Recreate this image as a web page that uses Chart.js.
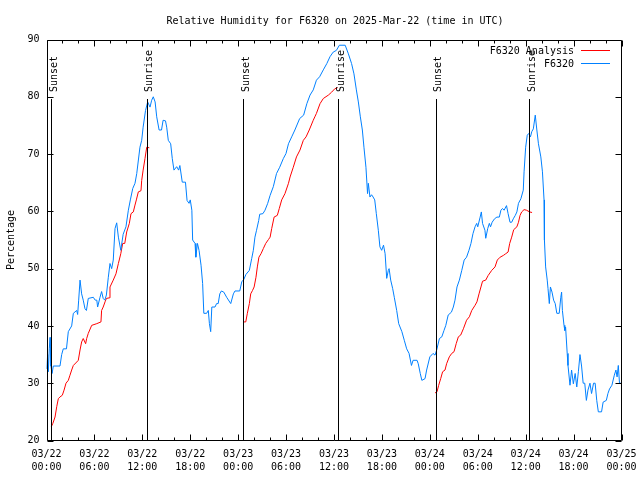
<!DOCTYPE html>
<html><head><meta charset="utf-8">
<script src="https://cdn.jsdelivr.net/npm/chart.js@4/dist/chart.umd.min.js"></script>
<style>html,body{margin:0;padding:0;background:#fff}</style>
</head><body>
<canvas id="c" width="640" height="480"></canvas>
<script>
const chartTitle = 'Relative Humidity for F6320 on 2025-Mar-22 (time in UTC)';
const yTitle = 'Percentage';
const seriesNames = ['F6320 Analysis', 'F6320'];
const xTickDates = ['03/22','03/22','03/22','03/22','03/23','03/23','03/23','03/23','03/24','03/24','03/24','03/24','03/25'];
const xTickTimes = ['00:00','06:00','12:00','18:00','00:00','06:00','12:00','18:00','00:00','06:00','12:00','18:00','00:00'];
const yTicks = [20,30,40,50,60,70,80,90];
const sunLabels = ['Sunset','Sunrise','Sunset','Sunrise','Sunset','Sunrise'];
const sunHours = [0.6, 12.55, 24.65, 36.54, 48.73, 60.46];

// hours since 03/22 00:00 UTC
const stationHours = [0.0,0.15,0.23,0.35,0.44,0.55,0.7,0.85,1.69,1.9,2.1,2.5,2.73,3.15,3.36,3.78,3.9,4.03,4.2,4.4,4.6,4.82,5.0,5.23,5.86,6.1,6.3,6.4,6.7,6.9,7.1,7.3,7.5,7.74,7.95,8.16,8.36,8.58,8.79,9.0,9.3,9.6,9.95,10.25,10.5,10.8,11.08,11.3,11.7,11.92,12.1,12.4,12.67,12.96,13.17,13.37,13.6,13.8,14.1,14.4,14.6,14.9,15.05,15.25,15.55,15.75,15.96,16.3,16.55,16.7,17.0,17.4,17.6,17.85,18.0,18.2,18.3,18.6,18.7,18.9,19.1,19.35,19.55,19.7,20.05,20.26,20.4,20.56,20.7,21.1,21.3,21.5,21.7,21.9,22.2,22.56,23.07,23.4,23.6,24.2,24.45,24.7,24.98,25.4,25.7,25.9,26.1,26.3,26.57,26.7,27.1,27.36,27.7,28.0,28.4,28.8,29.2,29.65,29.99,30.3,30.7,31.1,31.7,32.2,32.6,33.0,33.4,33.8,34.2,34.66,35.1,35.5,35.9,36.3,36.67,37.4,37.8,38.2,38.5,38.8,39.05,39.3,39.55,39.75,40.0,40.2,40.3,40.5,40.7,40.9,41.1,41.3,41.55,41.75,41.97,42.2,42.4,42.6,42.8,42.9,43.1,43.35,43.55,43.85,44.1,44.5,44.8,45.1,45.4,45.7,45.9,46.4,46.55,46.8,47.0,47.4,47.6,48.0,48.4,48.65,48.86,49.2,49.5,49.77,50.0,50.3,50.7,50.94,51.15,51.4,51.7,52.0,52.3,52.6,52.9,53.15,53.4,53.66,53.87,54.0,54.3,54.45,54.6,54.9,55.0,55.25,55.45,55.6,55.8,56.1,56.4,56.7,56.9,57.1,57.3,57.6,57.8,58.04,58.25,58.45,58.7,58.9,59.1,59.4,59.7,59.8,60.0,60.2,60.4,60.6,60.76,60.96,61.2,61.4,61.6,61.9,62.1,62.3,62.35,62.5,62.7,62.8,62.96,63.1,63.3,63.5,63.7,63.9,64.2,64.4,64.5,64.6,64.8,64.9,65.0,65.2,65.3,65.55,65.75,65.97,66.2,66.4,66.6,66.8,67.0,67.2,67.4,67.6,67.8,68.05,68.25,68.5,68.7,68.9,69.1,69.5,69.7,70.1,70.3,70.5,70.8,71.1,71.3,71.45,71.6,71.75,72.0];
const stationValues = [32.5,35,32,36,38,33,31.7,33,33,35,36,36,39,40,42.2,42.7,42,44.5,48,45.6,44.5,43,42.7,44.8,45,44.5,44.5,43.3,45,46,44.8,44.5,45.4,48.5,50.9,50,51.5,57,58,55.5,53.2,56,57.3,60.2,62,64,64.9,66.6,71.2,72.4,74.7,77.6,79.1,78.2,79.4,80,79.1,76.5,74.2,74.2,75.9,75.8,74.7,72.4,71.8,69.2,67.2,67.8,67.2,68,65.1,65.1,61.9,61.4,62,60.2,55,54.4,52,54.4,53.2,50.6,47.4,42.2,42.2,42.7,40.4,39,43.3,43.3,43.9,43.9,45.6,46.1,45.9,45,43.9,45.6,46.1,46.1,47.7,48.1,49,49.7,51.8,53.2,55.5,56.7,58.4,59.5,59.6,60.2,61.4,62.8,64.3,66.6,67.7,69.2,70.1,71.8,73,74.2,76.2,76.8,78.8,80.3,81.2,82.9,83.5,84.7,85.8,87,87.8,88.1,89,89,87.5,85.8,84,81.2,79.1,76.5,74.2,71.2,67.7,63.1,64.9,62.5,62.9,62.5,62,59.6,56.7,53.8,53.2,54.1,52.6,48.3,49.7,50,48,46.5,45,42.7,40.4,39,37.5,36,35.2,33.1,34,34,33.4,31.7,30.5,30.8,32.3,34.6,35.2,34.9,35.8,37.8,38.1,39.2,40.1,41.9,42.4,43.3,44.5,46.8,48,49.7,51.5,52,53.2,54.4,56.1,57.3,57.9,57.3,59,59.9,57.9,56.7,55.3,57,57.9,57.3,58.1,58.7,59,59,60.2,60.5,60.2,61,59.6,58.1,58.1,58.7,59.3,59.9,61.4,62.2,63.7,66.9,71.2,73.3,73.6,73,73.9,74.4,76.8,74.2,71.8,69.5,66.9,62,55,50.3,48,46.5,43.9,46.8,45.9,44.5,43.9,42.2,42.2,45,45.9,42.7,40.1,39.2,39.8,35.2,33.1,29.65,32.3,29.9,31.7,29.35,32,35,33,30,30,27,28.8,30,28.2,30,30,27,25,25,26.7,27,28.2,29,29.65,31.4,32.3,31.1,33.1,30,30];

const analysisHours = [0.6,0.8,1.07,1.28,1.48,1.69,1.98,2.2,2.44,2.73,2.94,3.15,3.36,3.78,3.98,4.2,4.4,4.6,4.9,5.03,5.23,5.66,6.3,6.82,6.9,7.1,7.33,7.5,7.86,7.95,8.36,8.7,9.0,9.3,9.54,9.8,10.04,10.37,10.58,10.87,11.08,11.25,11.5,11.83,11.92,12.1,12.33,12.55,12.87,
  18,
  24.64,24.95,25.15,25.4,25.57,25.8,26.0,26.23,26.4,26.6,26.86,27.15,27.45,27.8,28.0,28.2,28.5,28.9,29.15,29.45,29.86,30.3,30.5,30.9,31.3,31.74,32.16,32.5,32.9,33.4,33.6,33.8,34.25,34.66,35.3,35.7,36.1,36.45,
  42,
  48.65,48.9,49.1,49.36,49.6,49.9,50.1,50.44,50.74,51.03,51.3,51.57,51.86,52.2,52.6,52.95,53.25,53.66,53.9,54.16,54.4,54.6,55.0,55.3,55.75,56.16,56.45,56.8,57.2,57.5,57.8,58.0,58.25,58.5,58.9,59.1,59.3,59.5,59.8,60.1,60.5,60.8];
const analysisValues = [22.4,23,24.1,25.9,27.3,27.6,27.9,28.8,30,30.5,31.4,32.3,33.1,33.7,34,35.8,37.2,37.8,36.9,37.8,38.7,40.1,40.4,40.7,42.7,43.3,44.2,44.8,44.9,46.8,48,49.1,50.9,52.6,54.4,54.4,56.4,57.9,59.6,59.9,61.1,62,63.4,63.6,65.4,67.2,69.2,71.2,71.1,
  null,
  40.7,40.7,42.2,43.9,45.6,46.2,46.8,48.5,50.3,52,52.6,53.5,54.4,55.1,55.5,57,59,59.3,60.5,62,63.1,64.9,66,67.7,69.5,70.7,72.4,73,74.2,75.9,76.5,77.1,78.8,79.7,80.3,80.8,81.4,81.6,
  null,
  28.3,28.5,29.6,30.8,32,32.3,33.4,34.6,35.2,35.5,36.9,38.1,38.4,39.5,41,41.6,42.7,43.6,44.2,45.6,46.8,47.8,48,48.8,49.7,50.3,51.5,52,52.3,52.6,52.9,54.4,55.5,56.8,57.3,58.1,59.3,59.9,60.3,60.2,59.9,59.8];

const FONT = 'DejaVu Sans Mono';
const RED = '#ff0000';
const BLUE = '#0080ff';
const SUN_TOP = 79.6;

const toXY = (xs, ys) => xs.map((x, i) => ({x: x, y: ys[i]}));

const decor = {
  id: 'decor',
  afterDraw(chart) {
    const ctx = chart.ctx;
    const a = chart.chartArea;
    const xs = chart.scales.x, ys = chart.scales.y;
    ctx.save();
    ctx.strokeStyle = '#000';
    ctx.lineWidth = 1;
    const L = Math.round(a.left) + 0.5, R = Math.round(a.right) - 0.5;
    const T = Math.round(a.top) + 0.5, B = Math.round(a.bottom) - 0.5;
    ctx.beginPath();
    sunHours.forEach(h => {
      const px = Math.round(xs.getPixelForValue(h)) + 0.5;
      ctx.moveTo(px, B);
      ctx.lineTo(px, Math.round(ys.getPixelForValue(SUN_TOP)));
    });
    ctx.rect(L, T, R - L, B - T);
    for (let h = 0; h <= 72; h += 2) {
      const px = Math.round(xs.getPixelForValue(h)) + 0.5;
      const len = (h % 6 === 0) ? 6 : 3;
      ctx.moveTo(px, B); ctx.lineTo(px, B - len);
      ctx.moveTo(px, T); ctx.lineTo(px, T + len);
    }
    yTicks.forEach(v => {
      const py = Math.round(ys.getPixelForValue(v)) + 0.5;
      ctx.moveTo(L, py); ctx.lineTo(L + 6, py);
      ctx.moveTo(R, py); ctx.lineTo(R - 6, py);
    });
    ctx.stroke();
    ctx.fillStyle = '#000';
    ctx.font = '10px "' + FONT + '"';
    sunHours.forEach((h, i) => {
      const px = xs.getPixelForValue(h);
      ctx.save();
      ctx.translate(px + 5.5, 92);
      ctx.rotate(-Math.PI / 2);
      ctx.textAlign = 'left';
      ctx.textBaseline = 'alphabetic';
      ctx.fillText(sunLabels[i], 0, 0);
      ctx.restore();
    });
    ctx.textAlign = 'center';
    ctx.textBaseline = 'alphabetic';
    ctx.fillText(chartTitle, 335, 24);
    const ds = chart.data.datasets;
    ds.forEach((d, i) => {
      const by = 53.5 + i * 13;
      ctx.textAlign = 'right';
      ctx.fillStyle = '#000';
      ctx.fillText(d.label, 574, by);
      ctx.strokeStyle = d.borderColor;
      ctx.beginPath();
      ctx.moveTo(581, Math.round(by - 4) + 0.5);
      ctx.lineTo(610, Math.round(by - 4) + 0.5);
      ctx.stroke();
    });
    ctx.restore();
  }
};

new Chart(document.getElementById('c'), {
  type: 'line',
  data: {
    datasets: [
      { label: seriesNames[0], data: toXY(analysisHours, analysisValues), borderColor: RED, borderWidth: 1, pointRadius: 0, tension: 0, spanGaps: false, order: 1 },
      { label: seriesNames[1], data: toXY(stationHours, stationValues), borderColor: BLUE, borderWidth: 1, pointRadius: 0, tension: 0, order: 0 }
    ]
  },
  options: {
    responsive: false,
    animation: false,
    devicePixelRatio: 1,
    layout: { padding: { top: 39.5, right: 18.5, left: 0, bottom: 0 } },
    plugins: { legend: { display: false }, tooltip: { enabled: false }, title: { display: false } },
    scales: {
      x: {
        type: 'linear', position: 'bottom', min: 0, max: 72,
        grid: { display: false, drawTicks: false },
        border: { display: false },
        ticks: {
          stepSize: 6, autoSkip: false, maxRotation: 0, minRotation: 0, padding: 7,
          color: '#000', font: { family: FONT, size: 10, lineHeight: 1.36 },
          callback: (v) => { const i = Math.round(v / 6); return [xTickDates[i], xTickTimes[i]]; }
        },
        afterFit: (s) => { s.height = 39.5; s.paddingLeft = 0; s.paddingRight = 0; }
      },
      y: {
        type: 'linear', position: 'left', min: 20, max: 90,
        grid: { display: false, drawTicks: false },
        border: { display: false },
        ticks: { stepSize: 10, padding: 7, color: '#000', font: { family: FONT, size: 10 } },
        title: { display: true, text: yTitle, color: '#000', font: { family: FONT, size: 10 }, padding: { top: 5, bottom: 0 } },
        afterFit: (s) => { s.width = 46.5; s.paddingTop = 0; s.paddingBottom = 0; }
      }
    }
  },
  plugins: [decor]
});
</script>
</body></html>
